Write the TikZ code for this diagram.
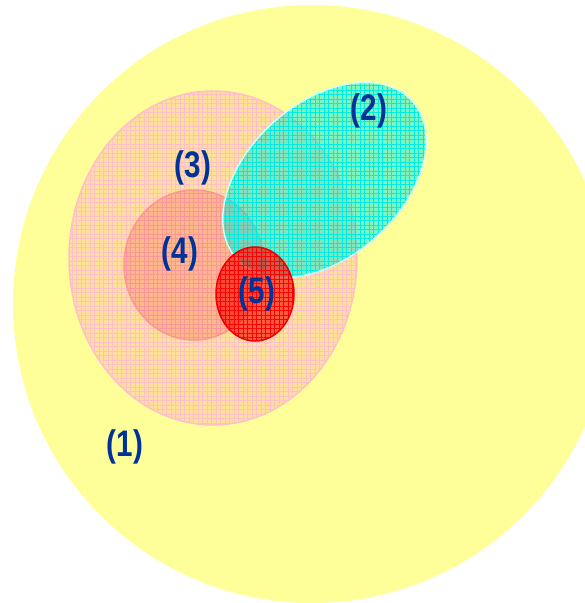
\documentclass[tikz,border=0pt]{standalone}
\usepackage{fontspec}
\newfontfamily\labelfont[FakeStretch=0.8]{Liberation Sans}
\usetikzlibrary{patterns.meta}
\definecolor{setyellow}{RGB}{255,255,153}
\definecolor{setpeach}{RGB}{255,185,160}
\definecolor{setsalmon}{RGB}{255,135,125}
\definecolor{setcyan}{RGB}{0,235,225}
\definecolor{setred}{RGB}{255,0,0}
\definecolor{edgepeach}{RGB}{255,190,200}
\definecolor{edgesalmon}{RGB}{250,150,150}
\definecolor{edgecyan}{RGB}{200,255,255}
\definecolor{edgered}{RGB}{235,0,0}
\definecolor{labelblue}{RGB}{0,51,153}

\begin{document}
\begin{tikzpicture}[x=1pt,y=-1pt,
	setlabel/.style={font=\labelfont\bfseries\fontsize{37}{40}\selectfont, text=labelblue, inner sep=0pt},
	gridtex/.style={pattern={Hatch[distance=4.5pt,line width=0.3pt]}}]
	\useasboundingbox (0,0) rectangle (585,603);
	\clip (0,0) rectangle (585,603);
	% the whole set
	\fill[setyellow] (312,304) circle [radius=299pt];
	% the four inner sets, back to front
	\foreach 
	\cx/\cy/\rx/\ry/\rot/\col/\grid/\edge/\op
	in
	{
		213/258/144/167/0/setpeach/edgepeach/edgepeach/0.42,
		194/265/70/75/0/setsalmon/edgesalmon/edgesalmon/0.45,
		324.5/180/118/77/42/setcyan/setcyan/edgecyan/0.5,
		255/294/39/47/0/setred/setred/edgered/0.6
	}
	{
		\begin{scope}[rotate around={\rot:(\cx,\cy)}]
		\fill[\col, fill opacity=\op] (\cx,\cy) ellipse [x radius=\rx pt, y radius=\ry pt];
		\fill[gridtex, pattern color=\grid, fill opacity=0.3] (\cx,\cy) ellipse [x radius=\rx pt, y radius=\ry pt];
		\draw[\edge, line width=1.5pt] (\cx,\cy) ellipse [x radius=\rx pt, y radius=\ry pt];
		\end{scope}
	}
	\foreach \n/\x/\y in {1/125/447, 2/369/111, 3/193/168, 4/180/254, 5/257/294}
	{
		\node[setlabel] (lab\n) at (\x,\y) {(\n)};
	}
\end{tikzpicture}
\end{document}
